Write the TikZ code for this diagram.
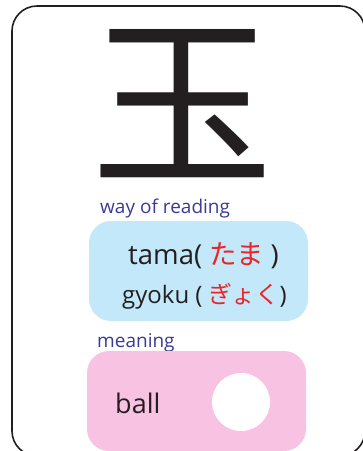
\documentclass[tikz,border=0pt]{standalone}
\usepackage{fontspec}
\setmainfont{Open Sans}
\newfontfamily\jpfont{Noto Sans CJK JP}
\definecolor{labelblue}{RGB}{58,58,150}
\definecolor{readblue}{RGB}{194,232,249}
\definecolor{meanpink}{RGB}{248,194,226}
\definecolor{kanared}{RGB}{234,36,40}
\definecolor{inkblack}{RGB}{35,31,32}
\newcommand{\kana}[1]{{\jpfont\color{kanared}#1}}
\tikzset{
  labeltext/.style={text=labelblue, inner sep=0, anchor=base west, font=\fontsize{19}{19}\selectfont},
  maintext/.style={text=inkblack, inner sep=0, anchor=base west},
  panel/.style={rounded corners=22pt, inner sep=0, minimum width=219pt},
}
\begin{document}
\begin{tikzpicture}[x=1pt,y=-1pt]
  \useasboundingbox (0,0) rectangle (363,451);
  % Frame
  \draw[inkblack, line width=1.6pt, rounded corners=25pt] (12,6) rectangle (365,456);
  % Kanji
  \node (kanji) [inner sep=0, text=inkblack, font=\jpfont\fontsize{182}{182}\selectfont] at (182.5,104) {玉};
  % Reading
  \node (readlabel) [labeltext] at (100,213) {way of reading};
  \node (readbox) [panel, fill=readblue, minimum height=100pt] at (198.5,271) {};
  \node (tama) [maintext, font=\fontsize{27.5}{27.5}\selectfont] at (128,264) {tama( \kana{たま} )};
  \node (gyoku) [maintext, font=\fontsize{24}{24}\selectfont] at (122,303) {gyoku ( \kana{ぎょく})};
  % Meaning
  \node (meanlabel) [labeltext] at (97,347) {meaning};
  \node (meanbox) [panel, fill=meanpink, minimum height=100pt] at (196.5,401) {};
  \node (ball) [maintext, font=\fontsize{27}{27}\selectfont] at (115,413) {ball};
  \node (sphere) [circle, fill=white, inner sep=0, minimum size=58pt] at (241,402) {};
\end{tikzpicture}
\end{document}
